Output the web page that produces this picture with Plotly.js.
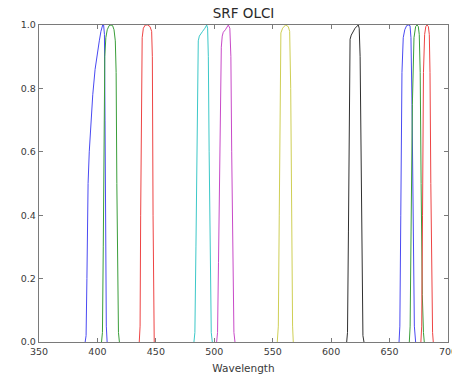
<!DOCTYPE html>
<html>
<head>
<meta charset="utf-8">
<script src="https://cdn.plot.ly/plotly-3.0.1.min.js"></script>
<style>html,body{margin:0;padding:0;background:#fff;}#chart{width:452px;height:377px;}</style>
</head>
<body>
<div id="chart"></div>
<script>
// OLCI spectral response functions
var wl1  = [389.5, 390.3, 391, 392, 393, 394.5, 396, 398, 400, 401.6, 403, 404.5, 405.3, 406, 406.5, 407, 407.6, 408.3];
var srf1 = [0, 0.02, 0.2, 0.5, 0.6, 0.7, 0.78, 0.86, 0.92, 0.95, 0.98, 1.0, 1.0, 0.97, 0.7, 0.3, 0.05, 0];

var wl2  = [403.5, 404.3, 405, 405.6, 406.3, 407.2, 408.4, 410, 411.6, 413, 414.2, 415.3, 416, 416.6, 417.3, 418, 418.8];
var srf2 = [0, 0.03, 0.3, 0.7, 0.9, 0.96, 0.985, 0.998, 1.0, 0.998, 0.985, 0.95, 0.85, 0.5, 0.15, 0.03, 0];

var wl3  = [435.8, 436.5, 437, 437.6, 438.3, 439.3, 441, 443, 445, 446.4, 447, 447.6, 448.1, 448.6];
var srf3 = [0, 0.05, 0.4, 0.85, 0.96, 0.99, 1.0, 1.0, 0.995, 0.98, 0.9, 0.4, 0.05, 0];

var wl4  = [482.6, 483.4, 484.3, 485.3, 486.3, 487.2, 488.3, 490, 492, 493.5, 494.3, 494.9, 495.6, 496.5, 497.4, 498.3];
var srf4 = [0, 0.03, 0.3, 0.75, 0.95, 0.965, 0.972, 0.98, 0.99, 1.0, 0.99, 0.9, 0.6, 0.2, 0.03, 0];

var wl5  = [502, 502.8, 503.6, 504.8, 506, 506.8, 507.7, 509.5, 511, 512, 513.3, 514.2, 514.9, 515.8, 516.8, 517.7];
var srf5 = [0, 0.03, 0.25, 0.7, 0.93, 0.965, 0.977, 0.985, 0.995, 1.0, 0.99, 0.9, 0.6, 0.2, 0.03, 0];

var wl6  = [553.9, 554.8, 555.6, 556.3, 557, 558.5, 561, 563.3, 564.5, 565.4, 566.2, 567, 567.6];
var srf6 = [0, 0.05, 0.4, 0.85, 0.975, 0.99, 1.0, 0.995, 0.98, 0.8, 0.3, 0.05, 0];

var wl7  = [613.3, 614, 614.8, 615.5, 616.2, 617.2, 618.4, 620.5, 623.2, 624, 624.8, 625.5, 626.3, 627.2, 628.1];
var srf7 = [0, 0.03, 0.35, 0.8, 0.955, 0.968, 0.977, 0.99, 1.0, 0.99, 0.9, 0.55, 0.15, 0.02, 0];

var wl8  = [658.1, 658.8, 659.6, 660.6, 661.7, 663, 664.6, 666, 667.5, 668.3, 669.2, 670.2, 671.2, 672.3];
var srf8 = [0, 0.05, 0.4, 0.85, 0.96, 0.985, 0.998, 1.0, 0.998, 0.96, 0.75, 0.3, 0.05, 0];

var wl9  = [666.9, 667.6, 668.4, 669.5, 670.9, 672.3, 673.5, 674.6, 675.4, 676.2, 677, 678, 679, 679.7];
var srf9 = [0, 0.05, 0.35, 0.75, 0.96, 0.995, 1.0, 0.995, 0.97, 0.85, 0.5, 0.15, 0.03, 0];

var wl10  = [676.8, 677.5, 678.2, 679, 680, 681, 682, 683.2, 684, 684.6, 685.3, 686, 686.8, 687.4];
var srf10 = [0, 0.05, 0.4, 0.85, 0.97, 0.995, 1.0, 0.995, 0.97, 0.85, 0.5, 0.15, 0.03, 0];

var xTicks = [350, 400, 450, 500, 550, 600, 650, 700];
var yTicks = [0.0, 0.2, 0.4, 0.6, 0.8, 1.0];
var yTickText = ["0.0", "0.2", "0.4", "0.6", "0.8", "1.0"];

var bandsX = [wl1, wl2, wl3, wl4, wl5, wl6, wl7, wl8, wl9, wl10];
var bandsY = [srf1, srf2, srf3, srf4, srf5, srf6, srf7, srf8, srf9, srf10];
var colors = ["#4a4af2", "#3a9e3a", "#ee4444", "#3cc8c8", "#c84ac8", "#cfcf55", "#303030", "#4a4af2", "#3a9e3a", "#ee4444"];

var traces = bandsX.map(function (xs, i) {
  return {
    x: xs, y: bandsY[i], type: "scatter", mode: "lines",
    line: {color: colors[i], width: 1},
    hoverinfo: "skip", showlegend: false
  };
});

var axisCommon = {
  showgrid: false, zeroline: false, showline: true, mirror: "ticks",
  linecolor: "#7a7a7a", linewidth: 1.2,
  ticks: "inside", ticklen: 4, tickcolor: "#7a7a7a", tickwidth: 1,
  ticklabeloverflow: "allow",
  tickfont: {family: "DejaVu Sans", size: 9.5, color: "#3a3a3a"}
};

var layout = {
  width: 452, height: 377,
  margin: {l: 39, r: 4, t: 25, b: 35, pad: 0},
  paper_bgcolor: "#fff", plot_bgcolor: "#fff",
  font: {family: "DejaVu Sans", color: "#3a3a3a"},
  title: {text: "SRF OLCI", font: {family: "DejaVu Sans", size: 13.5, color: "#2a2a2a"},
          x: 0.5388, xanchor: "center", y: 1 - 13 / 377, yanchor: "middle", yref: "container"},
  xaxis: Object.assign({}, axisCommon, {
    range: [350, 700], tickvals: xTicks, ticktext: xTicks.map(String),
    title: {text: "Wavelength", font: {family: "DejaVu Sans", size: 10.5, color: "#3a3a3a"}, standoff: 9}
  }),
  yaxis: Object.assign({}, axisCommon, {
    range: [0, 1], tickvals: yTicks, ticktext: yTickText
  })
};

Plotly.newPlot("chart", traces, layout, {staticPlot: true, displayModeBar: false});
</script>
</body>
</html>
